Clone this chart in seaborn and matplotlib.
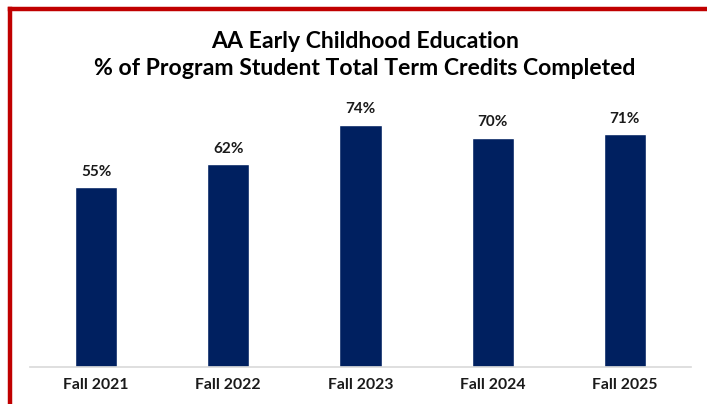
import matplotlib
matplotlib.use("Agg")
import matplotlib.pyplot as plt
from matplotlib.lines import Line2D
import seaborn as sns
import pandas as pd

categories = ["Fall 2021", "Fall 2022", "Fall 2023", "Fall 2024", "Fall 2025"]
values = [55, 62, 74, 70, 71]
labels = ["55%", "62%", "74%", "70%", "71%"]
title = "AA Early Childhood Education\n% of Program Student Total Term Credits Completed"

sns.set_style("white")
plt.rcParams['font.family'] = ['Lato', 'DejaVu Sans']

W, H = 707, 404
fig = plt.figure(figsize=(W / 100, H / 100), dpi=100)
ax = fig.add_axes([30 / W, 1 - 367 / H, 661 / W, 262 / H])

df = pd.DataFrame({"cat": categories, "val": values})
sns.barplot(data=df, x="cat", y="val", color="#002060", width=0.32, ax=ax,
            saturation=1)
ax.set_ylim(0, 80)
ax.set_xlim(-0.5, 4.5)
ax.set_xlabel("")
ax.set_ylabel("")
ax.set_yticks([])
for s in ["top", "right", "left"]:
    ax.spines[s].set_visible(False)
ax.spines["bottom"].set_color("#d9d9d9")
ax.spines["bottom"].set_linewidth(1.2)
ax.tick_params(axis="x", length=0, pad=8)
for t in ax.get_xticklabels():
    t.set_fontweight("bold")
    t.set_fontsize(11.3)
    t.set_color("#1a1a1a")

for i, (v, lab) in enumerate(zip(values, labels)):
    ax.annotate(lab, (i, v), xytext=(0, 6), textcoords="offset points",
                ha="center", va="bottom", fontsize=11, fontweight="bold",
                color="#1a1a1a")

fig.text(365 / W, 1 - 55 / H, title, ha="center", va="center",
         fontsize=16.6, fontweight="bold", color="#000000", linespacing=1.3)

# red border (left and top)
fig.add_artist(Line2D([10 / W, 10 / W], [0, 1 - 9 / H], color="#c00000",
                      linewidth=3.2, transform=fig.transFigure,
                      solid_capstyle="projecting"))
fig.add_artist(Line2D([10 / W, 1], [1 - 9 / H, 1 - 9 / H], color="#c00000",
                      linewidth=3.2, transform=fig.transFigure,
                      solid_capstyle="projecting"))

fig.savefig("out.png", dpi=100)
